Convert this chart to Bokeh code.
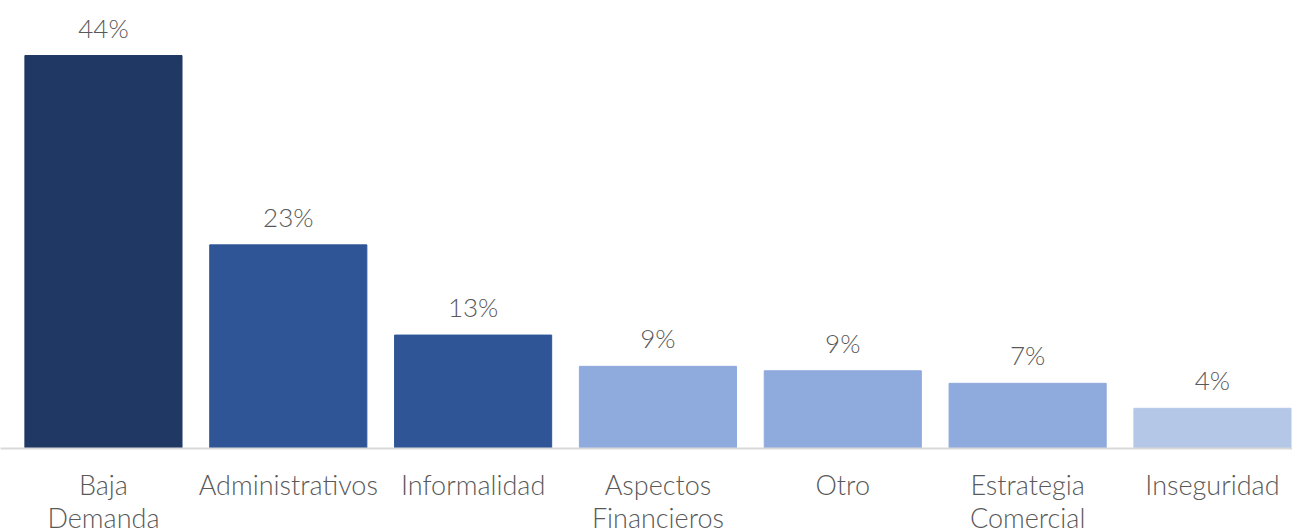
from bokeh.plotting import figure
from bokeh.models import ColumnDataSource, Range1d, FixedTicker
from bokeh.core.properties import value
from bokeh.embed import file_html
from bokeh.resources import INLINE

categories = ["Baja\nDemanda", "Administrativos", "Informalidad", "Aspectos\nFinancieros",
              "Otro", "Estrategia\nComercial", "Inseguridad"]
values = [44.0, 22.8, 12.7, 9.2, 8.7, 7.3, 4.5]
labels = ["44%", "23%", "13%", "9%", "9%", "7%", "4%"]
colors = ["#203864", "#2F5597", "#2F5597", "#8FAADC", "#8FAADC", "#8FAADC", "#B4C7E7"]

FONT = "Lato Light, Lato"

xs = list(range(len(categories)))
src = ColumnDataSource(dict(x=xs, top=values, label=labels, color=colors))

p = figure(frame_width=1292, frame_height=448, output_backend="svg", toolbar_location=None,
           x_range=Range1d(-0.557, 6.433), y_range=Range1d(0, 50.16),
           min_border_left=0, min_border_right=0, min_border_top=0, min_border_bottom=0)

p.vbar(x="x", top="top", width=0.85, color="color", source=src)
p.text(x="x", y="top", text="label", source=src, text_align="center",
       text_baseline="alphabetic", y_offset=-28, text_font=value(FONT),
       text_font_size="26px", text_color="#595959")

p.yaxis.visible = False
p.grid.visible = False
p.outline_line_color = None
p.background_fill_color = "white"
p.border_fill_color = "white"

xa = p.xaxis[0]
xa.ticker = FixedTicker(ticks=xs)
xa.major_label_overrides = {i: c for i, c in enumerate(categories)}
xa.axis_line_color = "#D9D9D9"
xa.axis_line_width = 2
xa.major_tick_line_color = None
xa.minor_tick_line_color = None
xa.major_label_text_font = FONT
xa.major_label_text_font_size = "27px"
xa.major_label_text_color = "#595959"
xa.major_label_standoff = 13
xa.major_label_text_line_height = 1.0

open("out.html", "w").write(file_html(p, INLINE))
